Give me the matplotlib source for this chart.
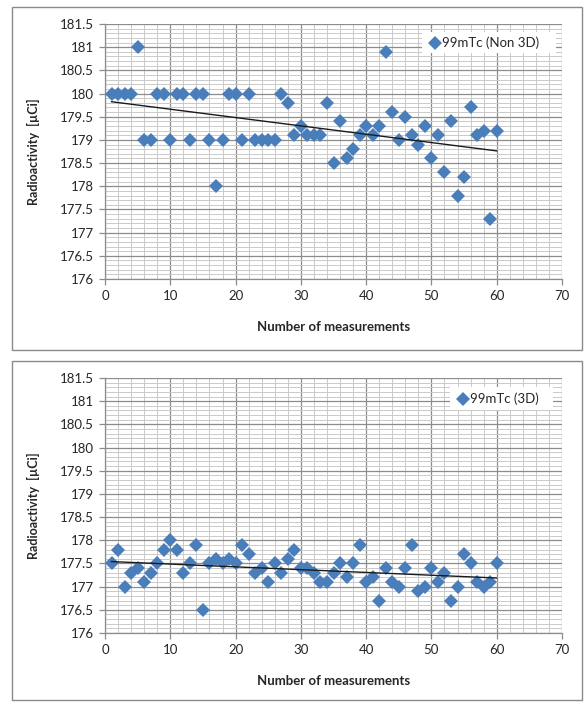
import numpy as np
import matplotlib
matplotlib.use("Agg")
import matplotlib.pyplot as plt
import matplotlib.patches as mpatches
from matplotlib.ticker import MultipleLocator

plt.rcParams["font.family"] = ["Lato", "DejaVu Sans"]

# Measurement index (same for both series)
measurements = list(range(1, 61))

# 99mTc activity read without 3D (uCi)
activity_non3d = [
    180.0, 180.0, 180.0, 180.0, 181.0, 179.0, 179.0, 180.0, 180.0, 179.0,
    180.0, 180.0, 179.0, 180.0, 180.0, 179.0, 178.0, 179.0, 180.0, 180.0,
    179.0, 180.0, 179.0, 179.0, 179.0, 179.0, 180.0, 179.8, 179.1, 179.3,
    179.1, 179.1, 179.1, 179.8, 178.5, 179.4, 178.6, 178.8, 179.1, 179.3,
    179.1, 179.3, 180.9, 179.6, 179.0, 179.5, 179.1, 178.9, 179.3, 178.6,
    179.1, 178.3, 179.4, 177.8, 178.2, 179.7, 179.1, 179.2, 177.3, 179.2,
]

# 99mTc activity read with 3D (uCi)
activity_3d = [
    177.5, 177.8, 177.0, 177.3, 177.4, 177.1, 177.3, 177.5, 177.8, 178.0,
    177.8, 177.3, 177.5, 177.9, 176.5, 177.5, 177.6, 177.5, 177.6, 177.5,
    177.9, 177.7, 177.3, 177.4, 177.1, 177.5, 177.3, 177.6, 177.8, 177.4,
    177.4, 177.3, 177.1, 177.1, 177.3, 177.5, 177.2, 177.5, 177.9, 177.1,
    177.2, 176.7, 177.4, 177.1, 177.0, 177.4, 177.9, 176.9, 177.0, 177.4,
    177.1, 177.3, 176.7, 177.0, 177.7, 177.5, 177.1, 177.0, 177.1, 177.5,
]

series_labels = ["99mTc (Non 3D)", "99mTc (3D)"]

MARKER_BLUE = "#4a7ebb"
MAJOR_GRID = "#8c8c8c"
MINOR_GRID = "#cacaca"
TEXT = "#262626"

W, H = 587, 704
fig = plt.figure(figsize=(W / 100, H / 100), dpi=100)
fig.patch.set_facecolor("white")


def fx(px):
    return px / W


def fy(py):
    return 1 - py / H


def draw_panel(top_px, box_top, box_bottom, values, label, legend_box):
    # outer chart border
    fig.patches.append(mpatches.Rectangle(
        (fx(12), fy(box_bottom)), fx(570), (box_bottom - box_top) / H,
        transform=fig.transFigure, fill=False, edgecolor="#8a8a8a",
        linewidth=1.0, zorder=0))

    ax = fig.add_axes([fx(105), fy(top_px + 255), fx(457), 255 / H])
    ax.set_xlim(0, 70)
    ax.set_ylim(176, 181.5)
    ax.xaxis.set_major_locator(MultipleLocator(10))
    ax.xaxis.set_minor_locator(MultipleLocator(2))
    ax.yaxis.set_major_locator(MultipleLocator(0.5))
    ax.yaxis.set_minor_locator(MultipleLocator(0.1))
    ax.grid(which="minor", color=MINOR_GRID, linewidth=0.7, zorder=0)
    ax.grid(which="major", color=MAJOR_GRID, linewidth=0.9, zorder=0)
    ax.set_axisbelow(True)
    for side in ("top", "right"):
        ax.spines[side].set_visible(False)
    for side in ("left", "bottom"):
        ax.spines[side].set_color(MAJOR_GRID)
        ax.spines[side].set_linewidth(0.9)
    ax.tick_params(which="major", length=4, color=MAJOR_GRID, width=0.9,
                   labelsize=9.5, labelcolor=TEXT, pad=4)
    ax.tick_params(which="minor", length=0)
    ax.yaxis.set_major_formatter(
        matplotlib.ticker.FuncFormatter(lambda v, _: f"{v:g}"))

    x = np.array(measurements)
    y = np.array(values)
    ax.plot(x, y, linestyle="none", marker="D", markersize=7.2,
            color=MARKER_BLUE, markeredgewidth=0, zorder=3, clip_on=False)
    # linear trendline over the data
    k, b = np.polyfit(x, y, 1)
    ax.plot([x.min(), x.max()], [k * x.min() + b, k * x.max() + b],
            color="#1a1a1a", linewidth=1.0, zorder=4)

    ax.set_xlabel("Number of measurements", fontsize=9.5, fontweight="bold",
                  color=TEXT)
    ax.xaxis.set_label_coords(0.5, -0.165)
    ax.set_ylabel("Radioactivity  [µCi]", fontsize=9, fontweight="bold",
                  color=TEXT)
    ax.yaxis.set_label_coords(-0.143, 0.5)

    # legend box
    lx0, ly0, lx1, ly1 = legend_box
    fig.patches.append(mpatches.Rectangle(
        (fx(lx0), fy(ly1)), fx(lx1 - lx0), (ly1 - ly0) / H,
        transform=fig.transFigure, facecolor="white", edgecolor="none",
        zorder=5))
    cy = fy((ly0 + ly1) / 2)
    fig.lines.append(plt.Line2D([fx(lx0 + 13)], [cy], marker="D",
                                markersize=7.2, color=MARKER_BLUE,
                                markeredgewidth=0,
                                transform=fig.transFigure, zorder=6))
    fig.text(fx(lx0 + 20), cy, label, fontsize=9.5, color=TEXT,
             va="center", ha="left", zorder=6)
    return ax


draw_panel(24, 7, 350, activity_non3d, series_labels[0], (422, 32, 556, 53))
draw_panel(378, 361, 700, activity_3d, series_labels[1], (450, 387, 553, 410))

fig.savefig("out.png", dpi=100, facecolor="white")
